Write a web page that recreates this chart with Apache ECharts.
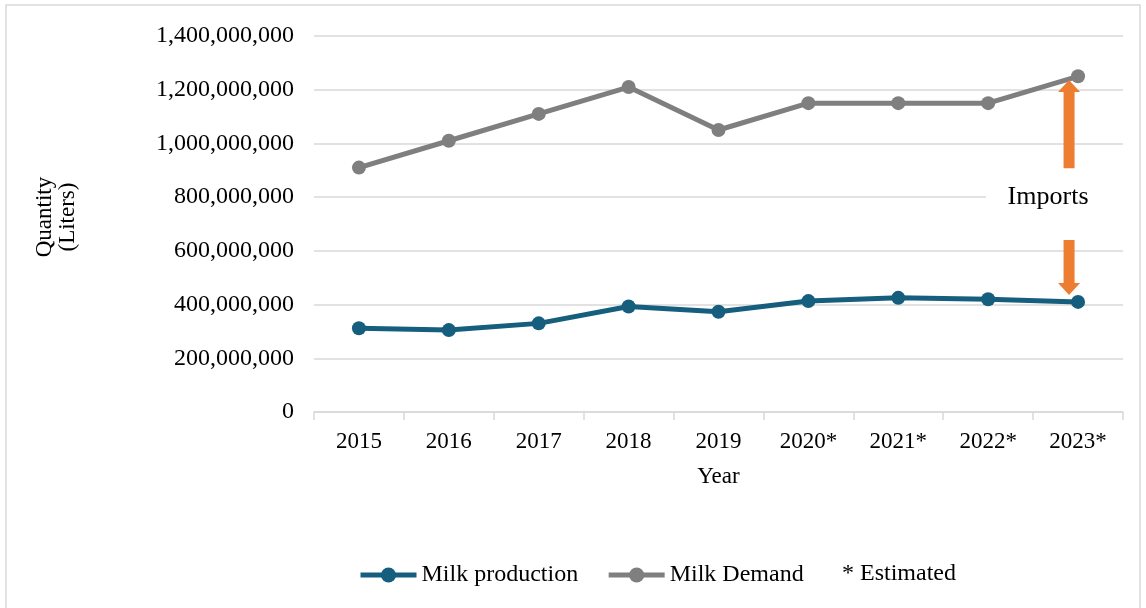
<!DOCTYPE html>
<html>
<head>
<meta charset="utf-8">
<script src="https://cdn.jsdelivr.net/npm/echarts@6/dist/echarts.min.js"></script>
<style>
  html, body { margin: 0; padding: 0; background: #fff; }
  #chart { width: 1146px; height: 608px; }
</style>
</head>
<body>
<div id="chart"></div>
<script>
// Annual milk figures, in liters
const years = ['2015', '2016', '2017', '2018', '2019', '2020*', '2021*', '2022*', '2023*'];
const milkProduction = [312000000, 305000000, 330000000, 393000000, 373000000, 413000000, 425000000, 420000000, 410000000];
const milkDemand = [910000000, 1010000000, 1110000000, 1210000000, 1050000000, 1150000000, 1150000000, 1150000000, 1250000000];
const yTicks = { min: 0, max: 1400000000, interval: 200000000 };

const FONT = '"Liberation Serif", "Times New Roman", serif';
const ORANGE = '#ED7D31';

const chart = echarts.init(document.getElementById('chart'));

const option = {
  animation: false,
  textStyle: { fontFamily: FONT },
  grid: { left: 314, right: 23, top: 36, bottom: 196 },
  legend: {
    data: ['Milk production', 'Milk Demand'],
    left: 358,
    top: 563,
    padding: 0,
    itemWidth: 56,
    itemHeight: 19,
    itemGap: 28,
    lineStyle: { width: 5 },
    textStyle: { fontFamily: FONT, fontSize: 24, color: '#000' }
  },
  xAxis: {
    type: 'category',
    data: years,
    boundaryGap: true,
    axisLine: { show: true, lineStyle: { color: '#d9d9d9', width: 1.5 } },
    axisTick: { show: true, length: 8, lineStyle: { color: '#d9d9d9', width: 1.5 } },
    axisLabel: { margin: 18, fontFamily: FONT, fontSize: 23, color: '#000' },
    name: 'Year',
    nameLocation: 'middle',
    nameGap: 53,
    nameTextStyle: { fontFamily: FONT, fontSize: 23, color: '#000' }
  },
  yAxis: {
    type: 'value',
    min: yTicks.min,
    max: yTicks.max,
    interval: yTicks.interval,
    axisLine: { show: false },
    axisTick: { show: false },
    splitLine: { lineStyle: { color: '#d9d9d9', width: 1.5 } },
    axisLabel: {
      margin: 20,
      fontFamily: FONT,
      fontSize: 24,
      color: '#000',
      formatter: v => v.toLocaleString('en-US')
    }
  },
  series: [
    {
      name: 'Milk production',
      type: 'line',
      data: milkProduction,
      symbol: 'circle',
      symbolSize: 14,
      itemStyle: { color: '#165E7E' },
      lineStyle: { color: '#165E7E', width: 5 },
      z: 3
    },
    {
      name: 'Milk Demand',
      type: 'line',
      data: milkDemand,
      symbol: 'circle',
      symbolSize: 14,
      itemStyle: { color: '#7F7F7F' },
      lineStyle: { color: '#7F7F7F', width: 5 },
      z: 3
    }
  ]
};

chart.setOption(option);

// Vertical block arrow pointing from (x, yFrom) to (x, yTo) in pixels
function blockArrow(x, yFrom, yTo) {
  const dir = yTo < yFrom ? -1 : 1;
  const shaft = 5.5, head = 11, headLen = 12;
  const yBase = yTo - dir * headLen;
  return {
    type: 'polygon',
    z: 10,
    shape: {
      points: [
        [x - shaft, yFrom], [x - shaft, yBase], [x - head, yBase],
        [x, yTo], [x + head, yBase], [x + shaft, yBase], [x + shaft, yFrom]
      ]
    },
    style: { fill: ORANGE }
  };
}

// Import gap annotation beside the last year
const last = years[years.length - 1];
const xLast = chart.convertToPixel({ gridIndex: 0 }, [last, 0])[0];
const ax = xLast - 9;
const py = v => chart.convertToPixel({ gridIndex: 0 }, [last, v])[1];
const labelY = py(800000000);

chart.setOption({
  graphic: [
    {
      type: 'rect',
      z: -10,
      shape: { x: 6, y: 5, width: 1134, height: 610 },
      style: { fill: 'none', stroke: '#d9d9d9', lineWidth: 1.5 }
    },
    {
      type: 'rect',
      z: 5,
      shape: { x: ax - 83, y: labelY - 15, width: 145, height: 30 },
      style: { fill: '#fff' }
    },
    {
      type: 'text',
      z: 11,
      x: ax - 21,
      y: labelY,
      style: {
        text: 'Imports',
        font: '26px ' + FONT,
        fill: '#000',
        align: 'center',
        verticalAlign: 'middle'
      }
    },
    blockArrow(ax, py(908000000), py(1236000000)),
    blockArrow(ax, py(640000000), py(436000000)),
    {
      type: 'text',
      x: 842,
      y: 574,
      style: {
        text: '* Estimated',
        font: '24px ' + FONT,
        fill: '#000',
        align: 'left',
        verticalAlign: 'middle'
      }
    },
    {
      type: 'text',
      x: 56,
      y: 217,
      rotation: Math.PI / 2,
      style: {
        text: 'Quantity\n(Liters)',
        font: '23px ' + FONT,
        fill: '#000',
        align: 'center',
        verticalAlign: 'middle',
        lineHeight: 23
      }
    }
  ]
});
</script>
</body>
</html>
